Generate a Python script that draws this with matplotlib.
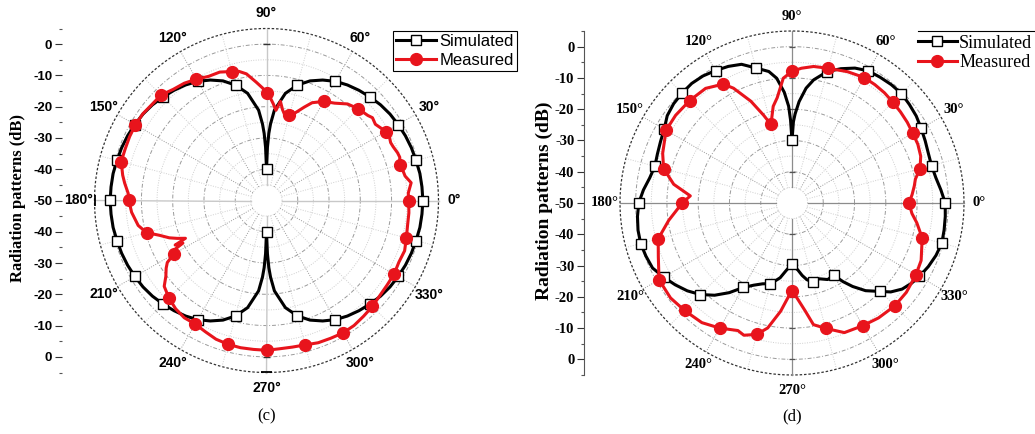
import numpy as np
import matplotlib
matplotlib.use("Agg")
import matplotlib.pyplot as plt
from matplotlib.lines import Line2D

# ---------------- data (angles in degrees, levels in dB) ----------------
c_sim_deg = [0, 5, 10, 15, 20, 25, 30, 35, 40, 45, 50, 55, 60, 65, 70, 75, 80, 85, 87, 88, 89, 90,
             91, 92, 93, 95, 100, 105, 110, 115, 120, 125, 130, 135, 140, 145, 150, 155, 160, 165, 170, 175, 180,
             185, 190, 195, 200, 205, 210, 215, 220, 225, 230, 235, 240, 245, 250, 255, 260, 265, 267, 268, 269, 270,
             271, 272, 273, 275, 280, 285, 290, 295, 300, 305, 310, 315, 320, 325, 330, 335, 340, 345, 350, 355, 360]
c_sim_db = [0.0, -0.1, -0.2, -0.5, -0.7, -1.0, -1.4, -1.8, -2.4, -3.2, -4.0, -4.9, -6.0, -7.5, -9.3, -11.8, -15.2, -21.0, -25.5, -28.5, -33.0, -40.0,
            -33.0, -28.5, -25.5, -21.0, -15.2, -11.8, -9.3, -7.5, -6.0, -4.9, -4.0, -3.2, -2.4, -1.8, -1.4, -1.0, -0.7, -0.5, -0.2, -0.1, 0.0,
            -0.1, -0.2, -0.5, -0.7, -1.0, -1.4, -1.8, -2.4, -3.2, -4.0, -4.9, -6.0, -7.5, -9.3, -11.8, -15.2, -21.0, -25.5, -28.5, -33.0, -40.0,
            -33.0, -28.5, -25.5, -21.0, -15.2, -11.8, -9.3, -7.5, -6.0, -4.9, -4.0, -3.2, -2.4, -1.8, -1.4, -1.0, -0.7, -0.5, -0.2, -0.1, 0.0]

c_meas_deg = [0, 3, 7, 10, 12, 15, 18, 20, 23, 25, 28, 30, 35, 38, 40, 45, 50, 55, 60, 65, 68, 72, 75, 78, 80, 82, 84, 86, 88, 90,
              92, 95, 99, 102, 105, 110, 115, 120, 125, 130, 135, 140, 145, 150, 155, 160, 165, 170, 173, 177, 180,
              185, 191, 195, 198, 201, 203, 205, 206, 207, 208, 210, 212, 214, 217, 220, 225, 230, 235, 240, 245, 250,
              255, 260, 265, 270, 275, 280, 285, 290, 295, 300, 305, 310, 315, 320, 325, 330, 335, 340, 345, 350, 355, 360]
c_meas_db = [-4.5, -4.6, -3.4, -5.0, -5.3, -5.9, -5.2, -5.4, -6.0, -6.2, -5.6, -5.9, -7.5, -7.0, -7.7, -8.5, -9.7, -12.0, -13.4, -15.5, -17.8, -20.6, -21.6, -22.0, -20.5, -18.0, -21.0, -19.0, -17.0, -15.5,
             -14.0, -12.0, -9.0, -7.8, -7.3, -6.3, -6.2, -5.2, -4.2, -3.6, -2.3, -2.2, -1.7, -1.6, -1.7, -1.9, -1.9, -3.3, -4.3, -5.7, -6.0,
             -6.7, -8.2, -10.3, -14.0, -16.7, -19.0, -21.4, -17.5, -20.0, -17.0, -15.8, -12.6, -11.3, -9.7, -7.3, -5.9, -4.8, -4.2, -4.4, -3.7, -2.8,
             -2.4, -2.2, -2.2, -2.1, -2.4, -2.4, -2.2, -1.6, -1.4, -1.1, -1.2, -1.7, -2.1, -2.7, -2.9, -2.9, -3.3, -3.0, -3.7, -4.2, -4.3, -4.5]

d_sim_deg = [0, 5, 10, 15, 20, 25, 30, 35, 40, 45, 50, 55, 60, 65, 70, 75, 80, 83, 86, 88, 89, 90,
             91, 92, 94, 97, 100, 105, 110, 115, 120, 125, 130, 135, 140, 145, 150, 155, 160, 165, 170, 175, 180,
             185, 190, 195, 200, 205, 210, 215, 220, 225, 230, 235, 240, 245, 250, 255, 258, 261, 265, 268, 270,
             272, 275, 278, 281, 285, 287, 290, 295, 300, 303, 306, 310, 315, 318, 322, 326, 330, 335, 340, 345, 350, 355, 360]
d_sim_db = [-1.0, -2.2, -3.3, -3.8, -3.6, -3.0, -2.3, -1.5, -1.0, -0.5, -0.6, -0.9, -1.2, -2.4, -4.3, -6.5, -10.0, -13.0, -17.5, -21.5, -24.0, -30.0,
            -23.5, -19.0, -14.5, -9.8, -7.3, -5.3, -2.8, -1.8, -1.1, -0.4, -0.1, -0.3, -0.6, -1.3, -2.8, -3.6, -4.2, -4.6, -3.8, -2.3, -1.0,
            -0.4, 0.0, 0.1, -0.3, -0.8, -2.6, -4.4, -6.3, -8.6, -11.5, -15.0, -18.8, -21.0, -22.5, -23.3, -24.6, -25.8, -28.3, -29.7, -30.5,
            -29.6, -28.5, -26.6, -25.0, -23.8, -24.2, -24.2, -23.0, -23.3, -20.0, -17.0, -13.4, -10.0, -7.5, -5.3, -4.0, -3.0, -1.9, -1.0, -0.4, -0.6, -0.8, -1.0]

d_meas_deg = [0, 4, 8, 11, 15, 20, 25, 30, 35, 40, 45, 50, 55, 60, 67, 75, 81, 86, 90,
              94, 98, 101, 105, 108, 112, 117, 120, 127, 135, 143, 150, 159, 165, 171, 176, 180,
              188, 195, 202, 210, 218, 225, 233, 240, 247, 250, 255, 259, 264, 268, 270,
              273, 277, 280, 285, 292, 300, 307, 315, 322, 330, 336, 345, 351, 355, 360]
d_meas_db = [-12.6, -11.5, -10.5, -9.8, -7.6, -6.2, -5.6, -5.4, -5.0, -4.7, -4.4, -4.0, -3.8, -3.7, -4.4, -5.4, -5.8, -6.8, -7.9,
             -10.0, -16.0, -18.5, -24.0, -20.4, -14.9, -8.8, -6.1, -4.1, -3.7, -3.4, -3.5, -5.7, -7.5, -11.7, -17.4, -14.9,
             -10.2, -5.7, -3.9, -0.9, -0.7, -1.4, -2.1, -3.8, -5.7, -5.0, -6.5, -9.3, -15.2, -20.2, -21.8,
             -19.6, -15.2, -10.5, -8.5, -5.3, -4.7, -4.0, -3.5, -3.6, -4.2, -4.8, -6.9, -9.6, -11.5, -12.6]

angle_ticks = [0, 30, 60, 90, 120, 150, 180, 210, 240, 270, 300, 330]
angle_labels = ["0°", "30°", "60°", "90°", "120°", "150°", "180°", "210°", "240°", "270°", "300°", "330°"]
scale_positions = [50, 40, 30, 20, 10, 0, -10, -20, -30, -40, -50]
scale_labels = ["0", "-10", "-20", "-30", "-40", "-50", "-40", "-30", "-20", "-10", "0"]
series_names = ["Simulated", "Measured"]
captions = ["(c)", "(d)"]
ylabel_text = "Radiation patterns (dB)"

R_MIN, R_MAX = -50, 5
W, H = 1035, 434
R_PX = 172.0
PX_PER_DB = R_PX / (R_MAX - R_MIN)

fig = plt.figure(figsize=(W / 100, H / 100), dpi=100)
fig.patch.set_facecolor("white")


def fx(px):
    return px / W


def fy(py):
    return 1 - py / H


def tang_tick(ax, deg, r, half_px, color, lw):
    dt = half_px / ((r - R_MIN) * PX_PER_DB)
    t = np.radians(deg)
    ax.plot([t - dt, t + dt], [r, r], color=color, lw=lw, zorder=2, clip_on=False,
            solid_capstyle="butt")


def draw_panel(cx, cy, sim_deg, sim_db, meas_deg, meas_db, tickfont, tickweight,
               tick_size, angle_size, axis_color, axis_lw, show_spine, spine_x,
               ylabel_x, ylabel_size, label_rpx, axis_ticks):
    ax = fig.add_axes([fx(cx - R_PX), fy(cy + R_PX), 2 * R_PX / W, 2 * R_PX / H],
                      projection="polar")
    ax.set_ylim(R_MIN, R_MAX)
    ax.set_xticks([])
    ax.set_yticks([])
    ax.grid(False)
    ax.spines["polar"].set_visible(False)

    th = np.linspace(0, 2 * np.pi, 721)
    for r in range(-45, 5, 5):
        major = (r % 10 == 0)
        ax.plot(th, np.full_like(th, r),
                color="#9a9a9a" if major else "#cfcfcf", lw=0.7,
                ls=(0, (4, 2, 1, 2)) if major else (0, (1, 1.5)), zorder=1)
    ax.plot(th, np.full_like(th, R_MAX), color="#333333", lw=0.9,
            ls=(0, (2, 1.5)), zorder=1, clip_on=False)
    for a in range(0, 360, 15):
        t = np.radians(a)
        if a % 90 == 0:
            ax.plot([t, t], [-45, R_MAX], color=axis_color, lw=axis_lw, zorder=1.5,
                    clip_on=False)
        elif a % 30 == 0:
            ax.plot([t, t], [-45, R_MAX], color="#9a9a9a", lw=0.7, ls=(0, (1, 1.5)), zorder=1)
        else:
            ax.plot([t, t], [-45, R_MAX], color="#cfcfcf", lw=0.7, ls=(0, (1, 1.5)), zorder=1)

    if axis_ticks == "ends":
        tang_tick(ax, 270, R_MAX, 6, "black", 1.3)
        tang_tick(ax, 180, R_MAX, 6, "black", 1.3)
        tang_tick(ax, 90, 0, 4, "#333333", 1.0)
        tang_tick(ax, 270, 0, 4, "#333333", 1.0)
    else:
        for r in (-40, -30, -20, -10, 0):
            tang_tick(ax, 90, r, 3.5, "#555555", 0.9)
            tang_tick(ax, 270, r, 3.5, "#555555", 0.9)

    sd = np.array(sim_deg, dtype=float)
    sv = np.array(sim_db, dtype=float)
    md = np.array(meas_deg, dtype=float)
    mv = np.array(meas_db, dtype=float)
    ax.plot(np.radians(sd), sv, color="black", lw=2.2, zorder=3, clip_on=False)
    ms = (sd % 15 == 0) & (sd < 360)
    ax.plot(np.radians(sd[ms]), sv[ms], ls="none", marker="s", ms=6.5, mfc="white",
            mec="black", mew=1.0, zorder=4, clip_on=False)
    ax.plot(np.radians(md), mv, color="#e8141c", lw=2.2, zorder=5, clip_on=False)
    mm = (md % 15 == 0) & (md < 360)
    ax.plot(np.radians(md[mm]), mv[mm], ls="none", marker="o", ms=8.5, mfc="#e8141c",
            mec="#e8141c", zorder=6, clip_on=False)

    r_lab = R_MIN + label_rpx / R_PX * (R_MAX - R_MIN)
    for a, lab in zip(angle_ticks, angle_labels):
        ax.text(np.radians(a), r_lab, lab, ha="center", va="center",
                fontsize=angle_size, fontfamily=tickfont, fontweight="bold")

    # linear dB scale on the left
    sax = fig.add_axes([fx(spine_x), fy(cy + R_PX), 0.0005, 2 * R_PX / H])
    sax.set_ylim(-55, 55)
    sax.set_xticks([])
    sax.patch.set_visible(False)
    for s in ["top", "right", "bottom"]:
        sax.spines[s].set_visible(False)
    sax.spines["left"].set_visible(show_spine)
    sax.spines["left"].set_color("#555555")
    sax.spines["left"].set_linewidth(0.8)
    sax.set_yticks(scale_positions)
    sax.set_yticklabels(scale_labels, fontfamily=tickfont, fontweight=tickweight,
                        fontsize=tick_size)
    sax.set_yticks([-55, -45, -35, -25, -15, -5, 5, 15, 25, 35, 45, 55], minor=True)
    sax.tick_params(axis="y", which="major", direction="out", length=5, width=0.8,
                    pad=2, color="#333333")
    sax.tick_params(axis="y", which="minor", direction="out", length=2.5, width=0.8,
                    color="#555555")

    fig.text(fx(ylabel_x), fy(cy - 2), ylabel_text, rotation=90, ha="center",
             va="center", fontsize=ylabel_size, fontfamily="Liberation Serif",
             fontweight="bold")
    return ax


ax_c = draw_panel(266.5, 200.5, c_sim_deg, c_sim_db, c_meas_deg, c_meas_db,
                  "Liberation Sans", "bold", 9.5, 10, "#c8c8c8", 1.0, False, 62,
                  18, 12, 188, "ends")
ax_d = draw_panel(792, 203, d_sim_deg, d_sim_db, d_meas_deg, d_meas_db,
                  "Liberation Serif", "bold", 10.5, 10.5, "#8c8c8c", 0.9, True, 584,
                  544, 14, 187, "radial")

h_sim = Line2D([], [], color="black", lw=2.2, marker="s", ms=6.5, mfc="white", mec="black")
h_meas = Line2D([], [], color="#e8141c", lw=2.2, marker="o", ms=8.5, mfc="#e8141c", mec="#e8141c")

leg_c = fig.legend([h_sim, h_meas], series_names, loc="upper left",
                   bbox_to_anchor=(fx(393), fy(31)), frameon=True, fancybox=False,
                   edgecolor="black", framealpha=1, borderpad=0.2, handlelength=2.4,
                   handletextpad=0.2, labelspacing=0.2, borderaxespad=0,
                   prop={"family": "Liberation Sans", "size": 12}, numpoints=1)
leg_c.get_frame().set_linewidth(0.8)

leg_d = fig.legend([h_sim, h_meas], series_names, loc="upper left",
                   bbox_to_anchor=(fx(914), fy(31)), frameon=False, borderpad=0.2,
                   handlelength=2.2, handletextpad=0.1, labelspacing=0.15,
                   borderaxespad=0, prop={"family": "Liberation Serif", "size": 13},
                   numpoints=1)
fig.add_artist(Line2D([fx(918), fx(1035)], [fy(31), fy(31)], color="black", lw=0.8))

fig.text(fx(266.5), fy(416), captions[0], ha="center", va="center", fontsize=12,
         fontfamily="Liberation Serif")
fig.text(fx(792), fy(416), captions[1], ha="center", va="center", fontsize=12,
         fontfamily="Liberation Serif")

fig.savefig("out.png", dpi=100, facecolor="white")
